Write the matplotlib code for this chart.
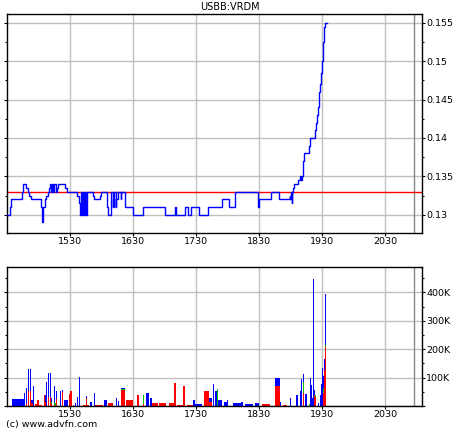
import numpy as np
import matplotlib
matplotlib.use("Agg")
from matplotlib import pyplot as plt
from matplotlib.ticker import MultipleLocator, FuncFormatter

# price trades (time index, price) - drawn as a step line
price_t = [1429, 1435, 1436, 1454, 1455, 1460, 1462, 1464, 1467, 1483,
           1484.5, 1485, 1486, 1487, 1489, 1490, 1492, 1494, 1496, 1497,
           1499, 1501, 1503, 1504.5, 1506.5, 1509, 1510, 1522, 1524, 1541,
           1543, 1545, 1547, 1549, 1550, 1552, 1553, 1554, 1555.5, 1556.5,
           1566.5, 1568, 1577, 1579, 1588, 1589, 1595, 1597, 1598, 1599,
           1600, 1602, 1603, 1605, 1610, 1611, 1616, 1630, 1645, 1680,
           1696, 1698, 1712, 1716, 1721, 1734, 1748, 1771, 1781, 1791,
           1827, 1829, 1848, 1861, 1878, 1879, 1880.5, 1881, 1882, 1884,
           1885, 1891, 1894.6, 1896, 1897, 1898.5, 1900, 1908, 1909.5, 1918.5,
           1920.5, 1922, 1923.5, 1924.5, 1925.8, 1927, 1928.5, 1930, 1931.5, 1932.5,
           1933.5, 1937]
price_v = [0.130, 0.131, 0.132, 0.133, 0.134, 0.1335, 0.133, 0.1325, 0.132, 0.131,
           0.130, 0.129, 0.1295, 0.131, 0.1315, 0.132, 0.1325, 0.133, 0.1335, 0.134,
           0.133, 0.134, 0.133, 0.134, 0.133, 0.1335, 0.134, 0.1335, 0.133, 0.1325,
           0.1315, 0.130, 0.133, 0.130, 0.133, 0.130, 0.131, 0.133, 0.130, 0.133,
           0.1325, 0.132, 0.1325, 0.133, 0.131, 0.130, 0.133, 0.131, 0.132, 0.131,
           0.133, 0.131, 0.132, 0.133, 0.132, 0.133, 0.131, 0.130, 0.131, 0.130,
           0.131, 0.130, 0.131, 0.130, 0.131, 0.130, 0.131, 0.132, 0.131, 0.133,
           0.131, 0.132, 0.133, 0.132, 0.1325, 0.132, 0.133, 0.1315, 0.133, 0.1335,
           0.134, 0.1345, 0.135, 0.1345, 0.135, 0.137, 0.138, 0.139, 0.140, 0.141,
           0.142, 0.143, 0.144, 0.146, 0.147, 0.1475, 0.1485, 0.150, 0.1525, 0.1545,
           0.155, 0.155]
ref_price = 0.133

# volume blocks: start, end, and stacked red / green / blue amounts (thousands)
vol_t0 = [1437, 1457, 1460, 1463, 1466, 1467.6, 1471, 1474, 1477, 1480,
          1484.5, 1486, 1487.5, 1490, 1492, 1495, 1498, 1499.6, 1504, 1505.6,
          1507, 1510, 1513.6, 1517, 1520.5, 1528, 1529.5, 1533.7, 1538, 1540.6,
          1543, 1550.6, 1555, 1556, 1561, 1567.6, 1568.6, 1583, 1590, 1599,
          1602.5, 1605.7, 1610, 1618, 1632, 1635, 1641.6, 1644.8, 1650, 1656.5,
          1659.6, 1671, 1683, 1686, 1687, 1694, 1697, 1700, 1708, 1713,
          1714.7, 1725, 1728, 1741.6, 1750, 1757, 1760, 1762, 1764, 1774.4,
          1779, 1786, 1787.7, 1800, 1807, 1821, 1822.6, 1834, 1848, 1854,
          1862, 1867, 1879, 1883, 1884.5, 1887.7, 1894, 1896, 1898.8, 1900.4,
          1902, 1909, 1910.4, 1912, 1913.6, 1915, 1916.8, 1918.4, 1923, 1926,
          1928, 1929.5, 1931, 1932.6, 1934]
vol_t1 = [1456.5, 1458, 1461, 1464.5, 1467, 1471, 1472.5, 1477, 1480, 1484.5,
          1485.6, 1487, 1489, 1491, 1493, 1496, 1499.6, 1501, 1505, 1507,
          1509, 1511, 1514.7, 1519, 1527, 1529, 1532.6, 1536, 1539, 1541.6,
          1546, 1555, 1556, 1560, 1564, 1568.6, 1582, 1588.7, 1598, 1600,
          1603.5, 1606.7, 1617, 1630, 1633, 1639, 1642.7, 1646.4, 1655, 1659.6,
          1669.7, 1682, 1684, 1687, 1694, 1697, 1698, 1708, 1711.5, 1714,
          1724, 1728, 1738.5, 1750, 1754, 1758.6, 1762, 1764, 1770, 1778,
          1780, 1787, 1800, 1803.5, 1820, 1822, 1830, 1847, 1849, 1862,
          1864, 1873.4, 1880.8, 1884, 1885.6, 1891, 1895.6, 1898, 1900, 1901.4,
          1905, 1910, 1911.5, 1913, 1914.6, 1916, 1918, 1920, 1924, 1927,
          1929, 1930.5, 1932, 1933.7, 1935.8]
vol_red = [0, 0, 8, 52, 52, 10, 0, 6, 21, 5,
           0, 38, 40, 15, 0, 33, 33, 8, 5, 0,
           23, 0, 0, 49, 0, 41, 52, 3, 0, 0,
           0, 5, 28, 5, 0, 0, 5, 0, 9, 38,
           0, 0, 56, 21, 38, 38, 0, 8, 0, 0,
           9, 10, 57, 35, 9, 81, 0, 5, 71, 0,
           4, 0, 0, 52, 15, 0, 0, 0, 0, 0,
           0, 100, 0, 0, 0, 0, 0, 7, 110, 71,
           0, 4, 0, 58, 0, 0, 0, 0, 44, 0,
           0, 0, 0, 0, 0, 0, 38, 33, 0, 0,
           0, 0, 44, 126, 209]
vol_green = [0, 0, 0, 0, 0, 0, 0, 0, 0, 0,
             0, 45, 0, 0, 0, 0, 0, 7, 7, 9,
             0, 0, 0, 0, 0, 0, 0, 0, 0, 0,
             0, 0, 0, 0, 0, 0, 0, 0, 0, 0,
             0, 0, 4, 0, 0, 0, 0, 30, 0, 0,
             0, 0, 0, 0, 0, 0, 0, 0, 0, 0,
             0, 0, 0, 0, 0, 0, 0, 58, 0, 0,
             0, 0, 0, 0, 0, 27, 0, 0, 3, 0,
             0, 0, 0, 0, 0, 0, 0, 0, 41, 73,
             0, 6, 0, 0, 0, 0, 0, 5, 0, 0,
             0, 0, 18, 0, 7]
vol_blue = [24, 44, 55, 77, 77, 11, 70, 0, 0, 0,
            33, 15, 0, 25, 84, 84, 84, 14, 58, 0,
            29, 52, 52, 7, 21, 0, 0, 0, 9, 33,
            102, 0, 7, 0, 13, 44, 0, 21, 0, 0,
            29, 16, 4, 0, 2, 0, 33, 0, 45, 29,
            0, 0, 7, 0, 0, 0, 21, 0, 0, 33,
            0, 21, 7, 0, 13, 77, 54, 0, 21, 15,
            21, 0, 12, 15, 6, 25, 9, 0, 4, 28,
            15, 0, 29, 47, 52, 40, 52, 94, 29, 56,
            42, 0, 100, 73, 29, 447, 18, 0, 12, 38,
            77, 135, 43, 38, 179]

x_ticks = [1530, 1630, 1730, 1830, 1930, 2030]
title = "USBB:VRDM"

plt.rcParams['font.family'] = ['DejaVu Sans']

fig = plt.figure(figsize=(4.6, 4.3), dpi=100)
ax1 = fig.add_axes([0.0146, 0.458, 0.9028, 0.510])
ax2 = fig.add_axes([0.0146, 0.056, 0.9028, 0.324])

for ax in (ax1, ax2):
    ax.set_xlim(1429, 2088)
    ax.set_xticks(x_ticks)
    ax.grid(True, color="#c0c0c0", lw=1)
    ax.set_axisbelow(True)
    ax.axvline(2075.5, color="#888888", lw=1, zorder=1)
    ax.yaxis.tick_right()
    ax.tick_params(axis="both", which="both", labelsize=6.8, length=2,
                   width=0.8, pad=1, left=True, right=True)
    ax.tick_params(axis="y", which="minor", length=1.6)
    for s in ax.spines.values():
        s.set_linewidth(1)

# price panel
ax1.set_ylim(0.12762, 0.15617)
ax1.yaxis.set_major_locator(MultipleLocator(0.005))
ax1.yaxis.set_minor_locator(MultipleLocator(0.0025))
ax1.yaxis.set_major_formatter(FuncFormatter(lambda v, p: f"{v:g}"))
ax1.axhline(ref_price, color="#ff0000", lw=1, zorder=2)
ax1.plot(price_t, price_v, drawstyle="steps-post", color="#0000ff", lw=1, zorder=3)

# volume panel
t0 = np.array(vol_t0)
w = np.array(vol_t1) - t0
red = np.array(vol_red) * 1000
green = np.array(vol_green) * 1000
blue = np.array(vol_blue) * 1000
ax2.bar(t0, red, width=w, align="edge", color="#ff0000", lw=0, zorder=2)
ax2.bar(t0, green, width=w, bottom=red, align="edge", color="#00c000", lw=0, zorder=2)
ax2.bar(t0, blue, width=w, bottom=red + green, align="edge", color="#0000ff", lw=0, zorder=2)
ax2.set_ylim(0, 491000)
ax2.yaxis.set_major_locator(MultipleLocator(100000))
ax2.yaxis.set_minor_locator(MultipleLocator(50000))
ax2.yaxis.set_major_formatter(FuncFormatter(lambda v, p: "" if v == 0 else f"{v/1000:.0f}K"))

fig.text(0.5, 1 - 7.5 / 430, title, ha="center", va="center", fontsize=7)
fig.text(6 / 460, 0.5 / 430, "(c) www.advfn.com", ha="left", va="bottom", fontsize=6.8)

fig.savefig("out.png", dpi=100)
